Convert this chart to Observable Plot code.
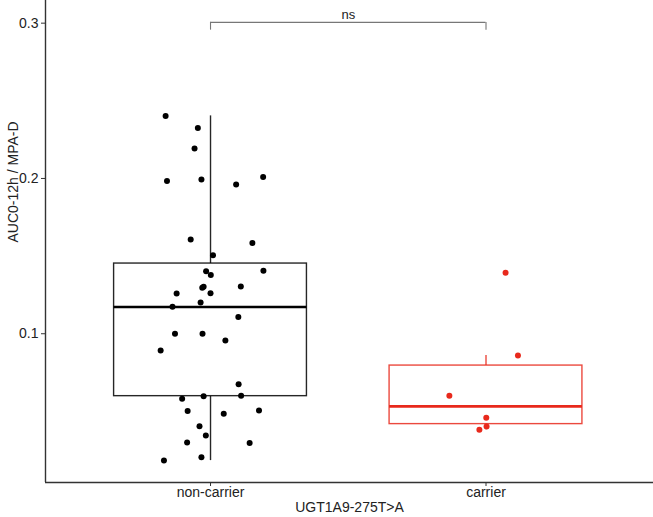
<!DOCTYPE html>
<html><head><meta charset="utf-8">
<script src="https://cdn.jsdelivr.net/npm/d3@7"></script>
<script src="https://cdn.jsdelivr.net/npm/@observablehq/plot@0.6"></script>
<style>body{margin:0;background:#fff} svg{display:block}</style>
</head><body><div id="chart"></div>
<script>
const categories = ["non-carrier", "carrier"];
const groupColors = ["#000000", "#E8291C"];
const nonCarrierValues = [0.2403, 0.2325, 0.2193, 0.1983, 0.1993, 0.1961, 0.2010, 0.1607, 0.1584, 0.1506,
  0.1403, 0.1378, 0.1405, 0.1296, 0.1302, 0.1304, 0.1259, 0.1261, 0.1201, 0.1173,
  0.1107, 0.1000, 0.1000, 0.0957, 0.0892, 0.0674, 0.0598, 0.0600, 0.0582, 0.0502,
  0.0485, 0.0505, 0.0405, 0.0345, 0.0299, 0.0296, 0.0205, 0.0183];
const nonCarrierJitter = [-0.163, -0.046, -0.058, -0.158, -0.033, 0.093, 0.191, -0.072, 0.152, 0.009,
  -0.016, 0.001, 0.192, -0.030, -0.025, 0.110, -0.123, 0.000, -0.036, -0.138,
  0.101, -0.129, -0.029, 0.054, -0.181, 0.102, -0.025, 0.111, -0.103, -0.083,
  0.048, 0.176, -0.040, -0.017, -0.085, 0.142, -0.033, -0.169];
const carrierValues = [0.1392, 0.0860, 0.0601, 0.0459, 0.0403, 0.0381];
const carrierJitter = [0.071, 0.116, -0.133, 0.001, 0.002, -0.024];
const boxLow = [0.0183, 0.0381];
const boxQ1 = [0.0598, 0.0418];
const boxMedian = [0.1172, 0.0532];
const boxQ3 = [0.1452, 0.0795];
const boxHigh = [0.2403, 0.0860];
const comparisonLabel = "ns";
const comparisonY = 0.3005;
const comparisonTipY = 0.2955;
const yTicks = [0.1, 0.2, 0.3];
const xTitle = "UGT1A9-275T>A";
const yTitle = "AUC0-12h / MPA-D";

const xDomain = [0.401, 2.608];
const yDomain = [0.0042, 0.3146];
const boxHalf = 0.35;

const points = [];
[nonCarrierValues, carrierValues].forEach((vals, g) => {
  const jit = g === 0 ? nonCarrierJitter : carrierJitter;
  vals.forEach((v, i) => points.push({group: categories[g], x: g + 1 + jit[i], y: v, color: groupColors[g]}));
});
const boxes = categories.map((c, g) => ({
  group: c, pos: g + 1, low: boxLow[g], q1: boxQ1[g], med: boxMedian[g], q3: boxQ3[g], high: boxHigh[g], color: groupColors[g]
}));
const bracket = [{a: 1, b: 2, y: comparisonY, tip: comparisonTipY, label: comparisonLabel}];

const chart = Plot.plot({
  width: 653, height: 517,
  marginLeft: 45, marginRight: 0, marginTop: 0, marginBottom: 35,
  style: {fontFamily: "'Liberation Sans', Arial, sans-serif", fontSize: "14px", background: "#fff"},
  x: {type: "linear", domain: xDomain},
  y: {domain: yDomain},
  marks: [
    Plot.ruleX(boxes, {x: "pos", y1: "low", y2: "q1", stroke: "color", strokeOpacity: 0.85, strokeWidth: 1.4}),
    Plot.ruleX(boxes, {x: "pos", y1: "q3", y2: "high", stroke: "color", strokeOpacity: 0.85, strokeWidth: 1.4}),
    Plot.rect(boxes, {x1: d => d.pos - boxHalf, x2: d => d.pos + boxHalf, y1: "q1", y2: "q3", fill: "white", stroke: "color", strokeOpacity: 0.85, strokeWidth: 1.4}),
    Plot.ruleY(boxes, {y: "med", x1: d => d.pos - boxHalf, x2: d => d.pos + boxHalf, stroke: "color", strokeWidth: 2.6}),
    Plot.dot(points, {x: "x", y: "y", fill: "color", r: 3, stroke: null}),
    Plot.ruleY(bracket, {y: "y", x1: "a", x2: "b", stroke: "#777", strokeWidth: 1.1}),
    Plot.ruleX(bracket, {x: "a", y1: "tip", y2: "y", stroke: "#777", strokeWidth: 1.1}),
    Plot.ruleX(bracket, {x: "b", y1: "tip", y2: "y", stroke: "#777", strokeWidth: 1.1}),
    Plot.text(bracket, {x: d => (d.a + d.b) / 2, y: "y", text: "label", lineAnchor: "bottom", dy: -3, fontSize: 13, fill: "#222"}),
    Plot.ruleX([xDomain[0]], {stroke: "#333", strokeWidth: 1.4}),
    Plot.ruleY([yDomain[0]], {stroke: "#333", strokeWidth: 1.4}),
    Plot.axisY(yTicks, {tickSize: 4, tickPadding: 3, tickFormat: d3.format(".1f"), label: null, fontSize: 14, stroke: "#333", fill: "#222"}),
    Plot.axisX([1, 2], {tickSize: 4, tickPadding: 1, tickFormat: d => categories[d - 1], label: null, fontSize: 14, stroke: "#333", fill: "#222"}),
    Plot.text([yTitle], {frameAnchor: "left", rotate: -90, dx: -32, dy: 1, fontSize: 14, fill: "#222"}),
    Plot.text([xTitle], {frameAnchor: "bottom", dy: 29, fontSize: 14, fill: "#222"})
  ]
});
document.getElementById("chart").append(chart);
</script>
</body></html>
